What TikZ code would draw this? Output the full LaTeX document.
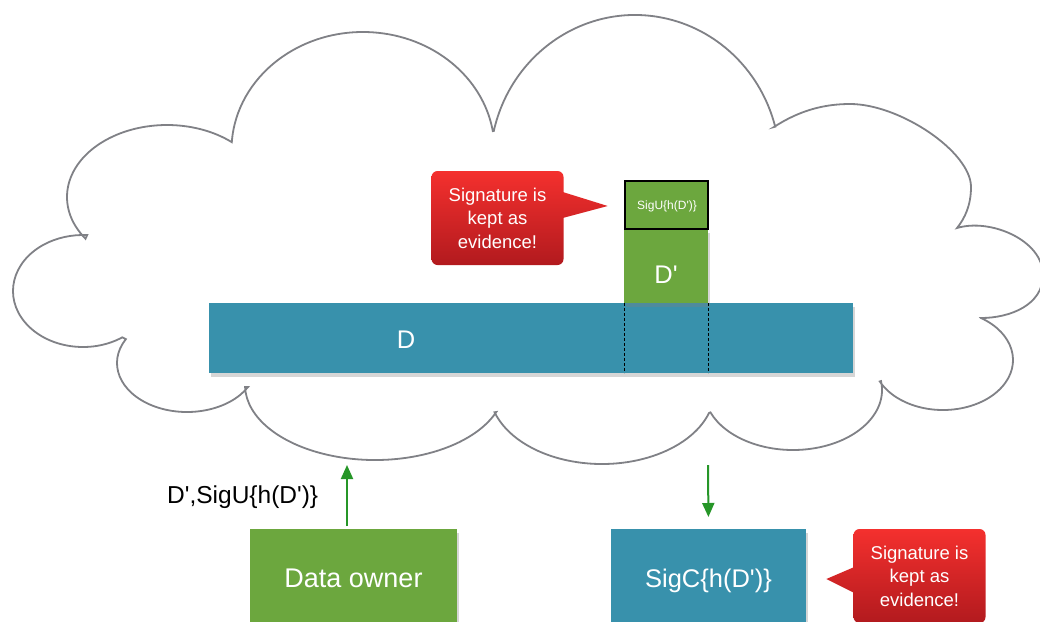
\documentclass[tikz,border=0pt]{standalone}
\usepackage{fontspec}
\setmainfont{Liberation Sans}[Ligatures=TeXOff]
\usetikzlibrary{calc,shadows,arrows.meta}

\definecolor{boxteal}{RGB}{56,145,172}
\definecolor{boxgreen}{RGB}{108,167,62}
\definecolor{calloutTop}{RGB}{244,48,46}
\definecolor{calloutBot}{RGB}{178,26,30}
\definecolor{cloudgray}{RGB}{128,129,134}
\definecolor{arrowgreen}{RGB}{38,150,40}

\tikzset{
  block/.style={rectangle, inner sep=0pt, outer sep=0pt},
  tealblock/.style={block, fill=boxteal},
  greenblock/.style={block, fill=boxgreen},
  softshadow/.style={drop shadow={shadow xshift=1.5pt, shadow yshift=-3.5pt, opacity=0.32}},
  bigtext/.style={inner sep=0pt, text=white, font=\fontsize{25.5}{30}\selectfont},
  callout/.style={rectangle, rounded corners=6pt, inner sep=0pt,
    minimum width=132pt, minimum height=94pt,
    top color=calloutTop, bottom color=calloutBot,
    text=white, align=center, font=\fontsize{18.5}{23.5}\selectfont},
  flow/.style={draw=arrowgreen, line width=2pt, -{Triangle[length=14pt,width=12pt]}},
  cut/.style={draw=black, line width=1pt, dash pattern=on 3pt off 2pt},
  cloudline/.style={draw=cloudgray, line width=1.8pt, line join=miter}
}

\begin{document}
\begin{tikzpicture}[x=1pt, y=-1pt]
\useasboundingbox (0,0) rectangle (1040,621);
\clip (0,0) rectangle (1040,621);
\fill[white] (0,0) rectangle (1040,621);

% the cloud: elliptic bumps (and a few free curves) meeting in sharp cusps
\draw[cloudline]
  ($(167,197)+(144.6:100 and 72)$) arc[start angle=144.6, end angle=310.4, x radius=100, y radius=72]
  -- ($(363,150)+(183.9:131.5 and 118)$) arc[start angle=183.9, end angle=350.8, x radius=131.5, y radius=118]
  -- ($(635,165)+(193.1:145 and 150)$) arc[start angle=193.1, end angle=345.2, x radius=145, y radius=150]
  -- (774,127) .. controls (800,110) and (825,104) .. (850,104)
     .. controls (900,104) and (971,152) .. (971,187)
     .. controls (971,205) and (965,218) .. (957,228)
  .. controls (990,218) and (1043,240) .. (1043,275)
     .. controls (1043,305) and (1010,318) .. (981,318)
  -- ($(943,360)+(302.9:70 and 50)$) arc[start angle=302.9, end angle=514.6, x radius=70, y radius=50]
  -- ($(793,390)+(-8.6:89 and 60)$) arc[start angle=-8.6, end angle=158.1, x radius=89, y radius=60]
  -- ($(602,390)+(18.1:112.6 and 74)$) arc[start angle=18.1, end angle=162.5, x radius=112.6, y radius=74]
  -- ($(375,385)+(21.1:130 and 75)$) arc[start angle=21.1, end angle=178.4, x radius=130, y radius=75]
  -- ($(187,363)+(29.4:70 and 49)$) arc[start angle=29.4, end angle=209.2, x radius=70, y radius=49]
  -- ($(83,291)+(55.8:70 and 56)$) arc[start angle=55.8, end angle=273.4, x radius=70, y radius=56]
  -- cycle;

% stored data D and the updated block D'
\node[tealblock, softshadow, minimum width=644pt, minimum height=70pt] (dbar) at (531,338) {};
\node[bigtext] (dlabel) at (406,340) {D};

\node[greenblock, softshadow, minimum width=84pt, minimum height=74pt] (dprime) at (666,266) {};
\node[bigtext] (dplabel) at (666,275) {D'};

\node[greenblock, draw=black, line width=2pt, minimum width=83pt, minimum height=48pt] (sigu) at (666.5,204.5) {};
\node[inner sep=0pt, text=white, font=\fontsize{12}{14}\selectfont, anchor=base] (sigutext) at (667,209) {SigU\{h(D')\}};

\draw[cut] (dbar.north -| dprime.west) -- (dbar.south -| dprime.west);
\draw[cut] (dbar.north -| dprime.east) -- (dbar.south -| dprime.east);

% callout next to the stored signature
\node[callout] (note1) at (497.5,218) {Signature is\\kept as\\evidence!};
\shade[top color=calloutBot!22!calloutTop, bottom color=calloutBot!50!calloutTop]
  ($(note1.east)+(-1,-26)$) -- ($(note1.east)+(44,-12)$) -- ($(note1.east)+(-1,0)$) -- cycle;

% parties below the cloud
\node[greenblock, softshadow, minimum width=207pt, minimum height=96pt, anchor=north west] (owner) at (250,529) {};
\node[bigtext, anchor=base, font=\fontsize{27}{30}\selectfont] (ownertext) at (353.5,587) {Data owner};

\node[tealblock, softshadow, minimum width=195pt, minimum height=96pt, anchor=north west] (sigc) at (611,529) {};
\node[bigtext, anchor=base] (sigctext) at (708.5,587) {SigC\{h(D')\}};

\node[callout] (note2) at (919.5,576) {Signature is\\kept as\\evidence!};
\shade[top color=calloutBot!40!calloutTop, bottom color=calloutBot!68!calloutTop]
  ($(note2.west)+(1,-9)$) -- ($(note2.west)+(-27,3)$) -- ($(note2.west)+(1,17)$) -- cycle;

% messages between the parties and the cloud
\coordinate (upEnd) at (347,465);
\coordinate (downStart) at (708,465);
\draw[flow, shorten <=3pt] (owner.north -| upEnd) -- (upEnd);
\draw[flow, shorten >=12pt] (downStart) -- (sigc.north);

\node[anchor=base west, inner sep=0pt, font=\fontsize{24.5}{30}\selectfont] (msg) at (167,503) {D',SigU\{h(D')\}};
\end{tikzpicture}
\end{document}
